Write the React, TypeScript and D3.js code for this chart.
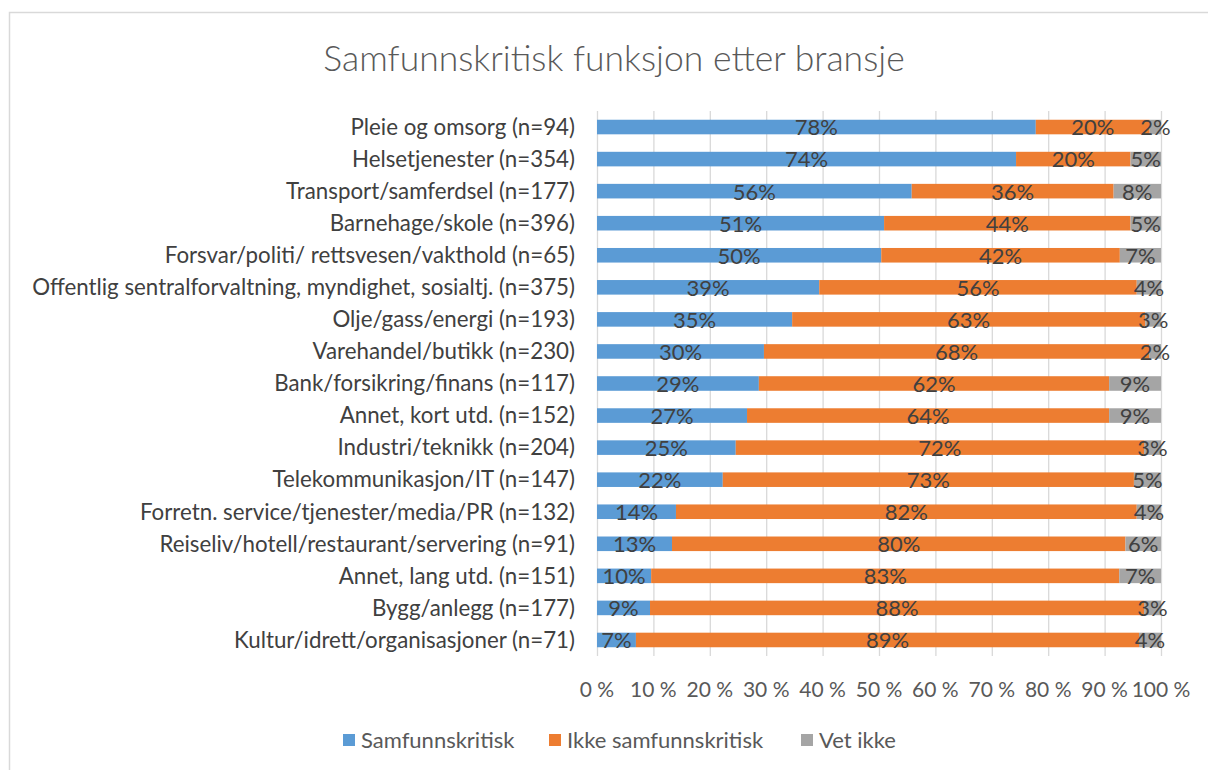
import React, { useEffect, useRef } from 'react';
import * as d3 from 'd3';

const categories = [
  'Pleie og omsorg (n=94)',
  'Helsetjenester (n=354)',
  'Transport/samferdsel (n=177)',
  'Barnehage/skole (n=396)',
  'Forsvar/politi/ rettsvesen/vakthold (n=65)',
  'Offentlig sentralforvaltning, myndighet, sosialtj. (n=375)',
  'Olje/gass/energi (n=193)',
  'Varehandel/butikk (n=230)',
  'Bank/forsikring/finans (n=117)',
  'Annet, kort utd. (n=152)',
  'Industri/teknikk (n=204)',
  'Telekommunikasjon/IT (n=147)',
  'Forretn. service/tjenester/media/PR (n=132)',
  'Reiseliv/hotell/restaurant/servering (n=91)',
  'Annet, lang utd. (n=151)',
  'Bygg/anlegg (n=177)',
  'Kultur/idrett/organisasjoner (n=71)',
];

// percentages
const samfunnskritisk = [77.8, 74.3, 55.8, 50.9, 50.4, 39.4, 34.6, 29.6, 28.7, 26.6, 24.6, 22.3, 14.0, 13.3, 9.6, 9.4, 6.9];
const ikkeSamfunnskritisk = [20.2, 20.3, 35.8, 43.7, 42.3, 56.3, 62.6, 68.3, 62.1, 64.2, 72.4, 72.9, 81.7, 80.4, 83.0, 87.6, 89.2];
const vetIkke = [2.0, 5.4, 8.4, 5.4, 7.3, 4.3, 2.8, 2.1, 9.2, 9.2, 3.0, 4.8, 4.3, 6.3, 7.4, 3.0, 3.9];

const seriesNames = ['Samfunnskritisk', 'Ikke samfunnskritisk', 'Vet ikke'];
const seriesColors = ['#5B9BD5', '#ED7D31', '#A5A5A5'];
const xTicks = [0, 10, 20, 30, 40, 50, 60, 70, 80, 90, 100];

const title = 'Samfunnskritisk funksjon etter bransje';
const font = 'Lato, "Open Sans", sans-serif';

const App = () => {
  const ref = useRef<SVGSVGElement>(null);

  useEffect(() => {
    if (!ref.current) return;
    const svg = d3.select(ref.current);
    svg.selectAll('*').remove();

    const left = 597, right = 1161, top = 111, bottom = 656;

    // chart border
    svg.append('rect')
      .attr('x', 9.5).attr('y', 12.5)
      .attr('width', 1220).attr('height', 780)
      .attr('fill', '#fff').attr('stroke', '#d9d9d9').attr('stroke-width', 1.5);

    svg.append('text')
      .attr('x', 614).attr('y', 71)
      .attr('text-anchor', 'middle')
      .style('font-family', font).style('font-size', '35.5px').style('font-weight', 300)
      .attr('fill', '#595959')
      .text(title);

    const x = d3.scaleLinear().domain([0, 100]).range([left, right]);
    const y = d3.scaleBand().domain(categories).range([top, bottom]).paddingInner(1.2 / 2.2).paddingOuter(0.6 / 2.2);

    // gridlines
    svg.append('g').selectAll('line').data(xTicks).enter().append('line')
      .attr('x1', d => x(d) + 0.5).attr('x2', d => x(d) + 0.5)
      .attr('y1', top).attr('y2', bottom)
      .attr('stroke', '#d9d9d9').attr('stroke-width', 1.3);

    // tick labels
    svg.append('g').selectAll('text').data(xTicks).enter().append('text')
      .attr('x', d => x(d)).attr('y', 697)
      .attr('text-anchor', 'middle')
      .style('font-family', font).style('font-size', '21px')
      .attr('fill', '#595959')
      .text(d => `${d} %`);

    // category labels
    svg.append('g').selectAll('text').data(categories).enter().append('text')
      .attr('x', 575).attr('y', d => (y(d) as number) + y.bandwidth() / 2)
      .attr('dy', '0.35em')
      .attr('text-anchor', 'end')
      .style('font-family', font).style('font-size', '22.3px')
      .attr('fill', '#404040')
      .text(d => d);

    const table = categories.map((c, i) => ({
      cat: c,
      s0: samfunnskritisk[i],
      s1: ikkeSamfunnskritisk[i],
      s2: vetIkke[i],
    }));
    const stacked = d3.stack<any>().keys(['s0', 's1', 's2'])(table);

    stacked.forEach((layer, si) => {
      const g = svg.append('g');
      g.selectAll('rect').data(layer).enter().append('rect')
        .attr('x', d => x(d[0]))
        .attr('y', d => y(d.data.cat) as number)
        .attr('width', d => x(d[1]) - x(d[0]))
        .attr('height', y.bandwidth())
        .attr('fill', seriesColors[si]);
    });

    stacked.forEach((layer) => {
      svg.append('g').selectAll('text').data(layer).enter().append('text')
        .attr('x', d => (x(d[0]) + x(d[1])) / 2)
        .attr('y', d => (y(d.data.cat) as number) + y.bandwidth() / 2)
        .attr('dy', '0.38em')
        .attr('text-anchor', 'middle')
        .style('font-family', font).style('font-size', '22px')
        .attr('fill', '#404040')
        .text(d => `${Math.round(d[1] - d[0])}%`);
    });

    // legend
    const legendX = [343, 549, 801];
    seriesNames.forEach((name, i) => {
      svg.append('rect')
        .attr('x', legendX[i]).attr('y', 734)
        .attr('width', 12).attr('height', 12)
        .attr('fill', seriesColors[i]);
      svg.append('text')
        .attr('x', legendX[i] + 18).attr('y', 740)
        .attr('dy', '0.35em')
        .style('font-family', font).style('font-size', '22px')
        .attr('fill', '#595959')
        .text(name);
    });
  }, []);

  return (
    <svg ref={ref} width={1208} height={770} style={{ position: 'absolute', left: 0, top: 0, background: '#fff' }} />
  );
};

export default App;
